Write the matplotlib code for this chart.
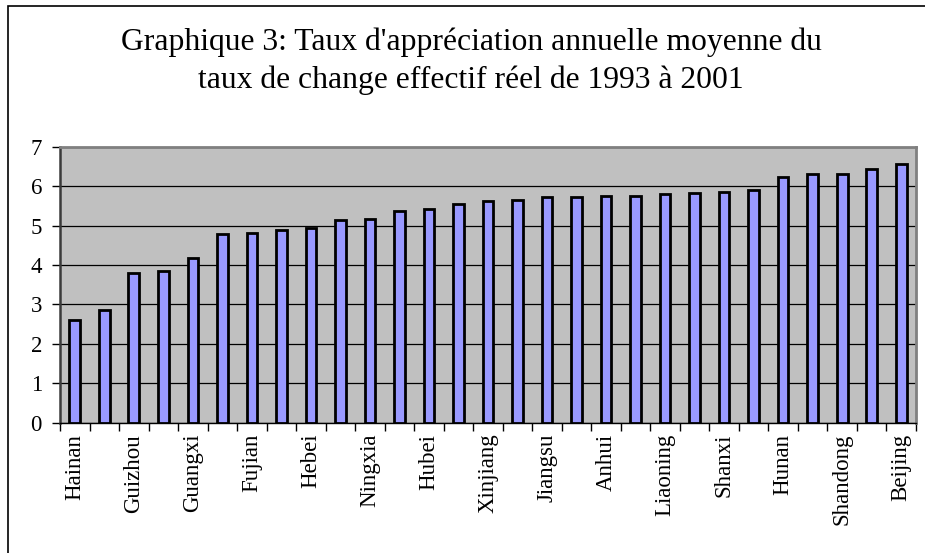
import numpy as np
import matplotlib
matplotlib.use("Agg")
import matplotlib.pyplot as plt
from matplotlib.patches import Rectangle

plt.rcParams['font.family'] = ['Liberation Serif', 'DejaVu Serif']

TITLE_1 = "Graphique 3: Taux d'appréciation annuelle moyenne du"
TITLE_2 = "taux de change effectif réel de 1993 à 2001"

# only every second province is labelled in the original chart
provinces = ["Hainan", "", "Guizhou", "", "Guangxi", "", "Fujian", "", "Hebei", "",
             "Ningxia", "", "Hubei", "", "Xinjiang", "", "Jiangsu", "", "Anhui", "",
             "Liaoning", "", "Shanxi", "", "Hunan", "", "Shandong", "", "Beijing"]
values = [2.60, 2.85, 3.79, 3.84, 4.18, 4.78, 4.80, 4.88, 4.95, 5.13,
          5.16, 5.38, 5.42, 5.55, 5.62, 5.65, 5.72, 5.72, 5.74, 5.76,
          5.79, 5.82, 5.86, 5.90, 6.22, 6.31, 6.32, 6.44, 6.57]
y_ticks = [0, 1, 2, 3, 4, 5, 6, 7]

fig = plt.figure(figsize=(9.25, 5.53), dpi=100)

# outer chart frame (Excel chart area border)
fig.patches.append(Rectangle((8 / 925, -0.1), 1.2, 1 - 6 / 553 + 0.1, transform=fig.transFigure,
                             fill=False, edgecolor="black", linewidth=1.2))

ax = fig.add_axes([60 / 925, 1 - 422.7 / 553, 856 / 925, 276 / 553])
ax.set_facecolor("#C0C0C0")

x = np.arange(len(values))
ax.bar(x, values, width=0.36, color="#9999FF", edgecolor="black", linewidth=2, zorder=3)

ax.set_xlim(-0.5, len(values) - 0.5)
ax.set_ylim(0, 7)
ax.set_yticks(y_ticks)
ax.yaxis.grid(True, color="black", linewidth=0.9, zorder=1)
ax.set_axisbelow(True)

ax.set_xticks(x)
ax.set_xticklabels(provinces, rotation=90, fontsize=16.5)
ax.set_xticks(np.arange(-0.5, len(values), 1.0), minor=True)
ax.tick_params(axis="x", which="major", length=0, pad=8)
ax.tick_params(axis="x", which="minor", length=6, width=1, direction="out")
ax.tick_params(axis="y", length=6, width=1, labelsize=16.5, pad=7)

for side in ["top", "right"]:
    ax.spines[side].set_color("#808080")
    ax.spines[side].set_linewidth(2)
ax.spines["left"].set_color("#3a3a3a")
ax.spines["left"].set_linewidth(1.8)
ax.spines["bottom"].set_color("black")
ax.spines["bottom"].set_linewidth(1)

fig.text(471 / 925, 1 - 50 / 553, TITLE_1, ha="center", va="baseline", fontsize=22.8)
fig.text(471 / 925, 1 - 88 / 553, TITLE_2, ha="center", va="baseline", fontsize=22.8)

fig.savefig("out.png", dpi=100)
